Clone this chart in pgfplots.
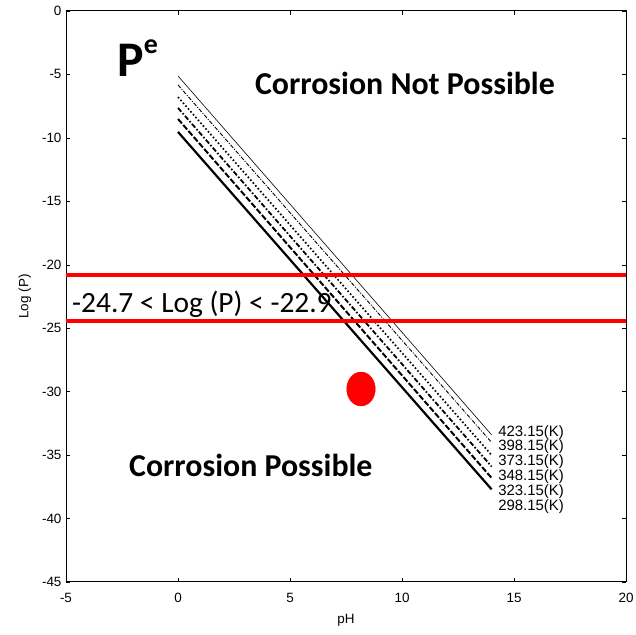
\documentclass[border=0pt]{standalone}
\usepackage{fontspec}
\setmainfont{Liberation Sans}
\newfontfamily\calfont{Carlito}
\usepackage{pgfplots}
\pgfplotsset{compat=1.18}
\usetikzlibrary{calc}
\definecolor{markred}{HTML}{FF0000}

% start and end of each line (x = 0 and x = 14)
\pgfplotstableread{
x    k423   k398   k373   k348   k323   k298
0    -5.12  -5.83  -6.78  -7.64  -8.51  -9.53
14   -33.4  -34.0  -35.0  -35.9  -36.8  -37.7
}\ptable

\begin{document}
\begin{tikzpicture}
\begin{axis}[
    scale only axis,
    width=560bp,
    height=571bp,
    xmin=-5, xmax=20,
    ymin=-45, ymax=0,
    xtick={-5,0,5,10,15,20},
    ytick={-45,-40,-35,-30,-25,-20,-15,-10,-5,0},
    tick align=inside,
    major tick length=4bp,
    tick style={black, line width=0.5pt},
    axis line style={black, line width=1pt},
    tick label style={font=\fontsize{13.5}{15}\selectfont},
    /pgf/number format/assume math mode=true,
    xticklabel style={yshift=-8bp},
    yticklabel style={xshift=-1bp},
    xlabel={pH},
    ylabel={Log (P)},
    label style={font=\fontsize{13.5}{15}\selectfont},
    xlabel style={yshift=-4bp},
    ylabel style={yshift=4bp},
    clip=false,
]
\addplot[black, line width=0.6pt] table[x=x, y=k423] {\ptable};
\addplot[black, line width=0.9pt, dash pattern=on 4pt off 1.5pt on 1pt off 1.5pt] table[x=x, y=k398] {\ptable};
\addplot[black, line width=1.7pt, dash pattern=on 1.6pt off 2.2pt] table[x=x, y=k373] {\ptable};
\addplot[black, line width=1.8pt, dash pattern=on 5pt off 2pt on 1.6pt off 2pt] table[x=x, y=k348] {\ptable};
\addplot[black, line width=2pt, dash pattern=on 6pt off 2pt] table[x=x, y=k323] {\ptable};
\addplot[black, line width=2.2pt] table[x=x, y=k298] {\ptable};

\addplot[markred, line width=3.5bp] coordinates {(-5,-20.8) (20,-20.8)};
\addplot[markred, line width=3.5bp] coordinates {(-5,-24.43) (20,-24.43)};

\addplot[only marks, mark=*, color=markred, mark size=17bp, mark options={xscale=0.84}] coordinates {(8.17,-29.79)};

\node[anchor=west, inner sep=0, font=\fontsize{15}{17}\selectfont] at (axis cs:14.29,-33.25) {423.15(K)};
\node[anchor=west, inner sep=0, font=\fontsize{15}{17}\selectfont] at (axis cs:14.29,-34.36) {398.15(K)};
\node[anchor=west, inner sep=0, font=\fontsize{15}{17}\selectfont] at (axis cs:14.29,-35.54) {373.15(K)};
\node[anchor=west, inner sep=0, font=\fontsize{15}{17}\selectfont] at (axis cs:14.29,-36.72) {348.15(K)};
\node[anchor=west, inner sep=0, font=\fontsize{15}{17}\selectfont] at (axis cs:14.29,-37.90) {323.15(K)};
\node[anchor=west, inner sep=0, font=\fontsize{15}{17}\selectfont] at (axis cs:14.29,-39.10) {298.15(K)};

\node[anchor=base, inner sep=0, font=\calfont\bfseries\fontsize{32}{34}\selectfont] at (axis cs:10.13,-6.62) {Corrosion Not Possible};
\node[anchor=base, inner sep=0, font=\calfont\bfseries\fontsize{32}{34}\selectfont] at (axis cs:3.25,-36.72) {Corrosion Possible};
\node[anchor=base west, inner sep=0, font=\calfont\fontsize{29.5}{32}\selectfont] at (axis cs:-4.73,-23.8) {-24.7 < Log (P) < -22.9};
\node[anchor=base west, inner sep=0, font=\calfont\bfseries\fontsize{50}{52}\selectfont] at (axis cs:-2.72,-5.2) {P\raisebox{23bp}{\fontsize{28}{30}\selectfont e}};
\end{axis}
\pgfresetboundingbox
\path ($(current axis.south west)+(-66bp,-53bp)$) rectangle ($(current axis.north east)+(10bp,11bp)$);
\end{tikzpicture}
\end{document}
